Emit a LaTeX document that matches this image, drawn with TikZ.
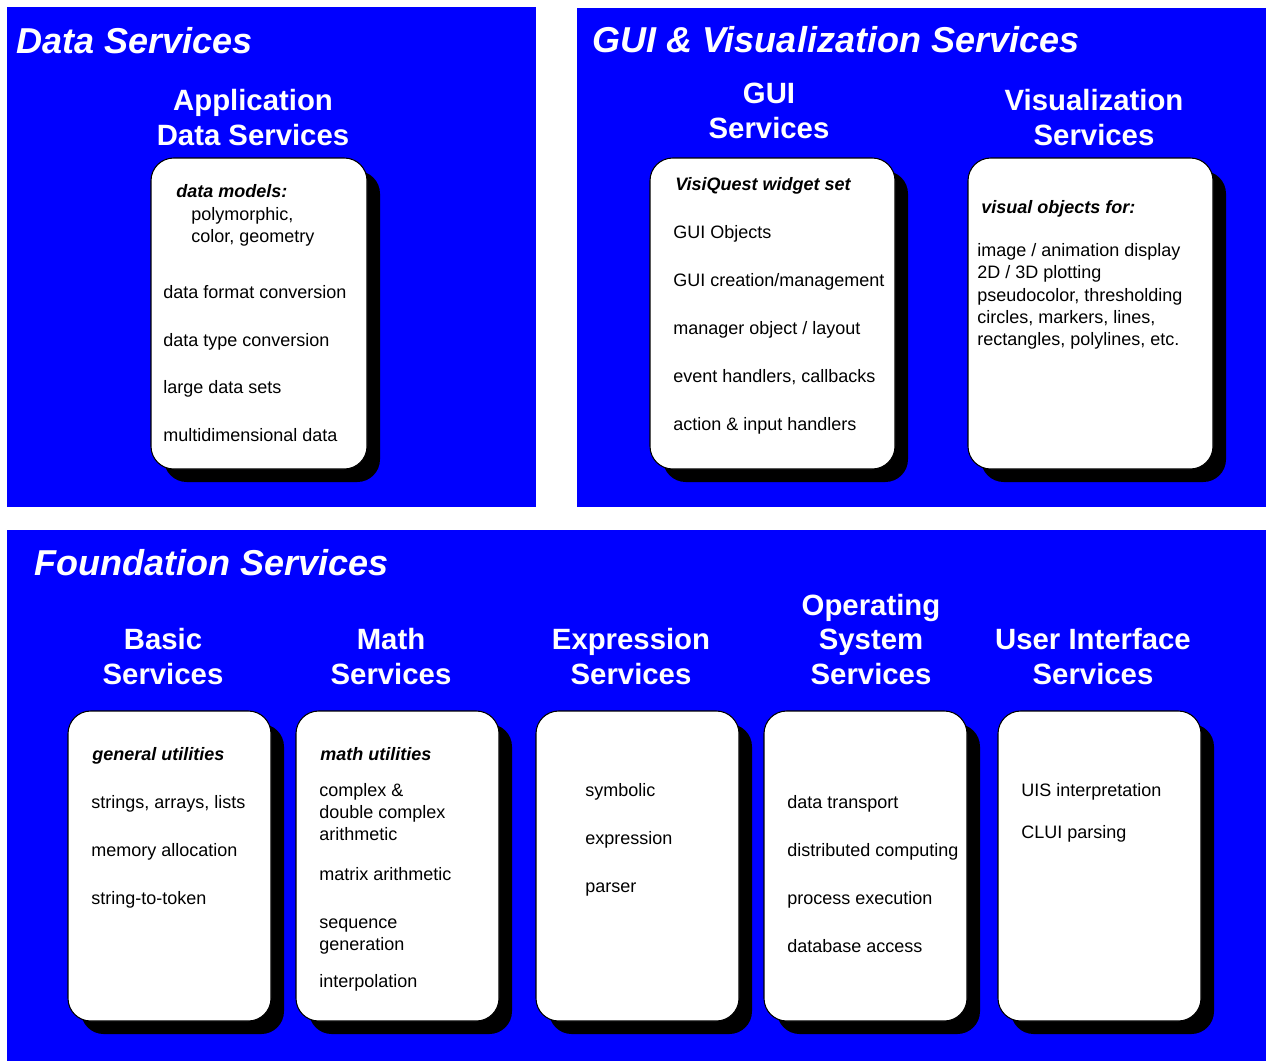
\documentclass[tikz,border=0pt]{standalone}
\usepackage{fontspec}
\setmainfont{Liberation Sans}
\usetikzlibrary{shadows,fit}

\definecolor{panelblue}{RGB}{0,0,255}

\begin{document}
\begin{tikzpicture}[x=0.75pt,y=-0.75pt,
  panel/.style={fill=panelblue},
  paneltitle/.style={anchor=base west, inner sep=0pt, text=white,
    font=\fontsize{27}{32}\selectfont\bfseries\itshape},
  groupline/.style={anchor=base, inner sep=0pt, text=white,
    font=\fontsize{22}{26}\selectfont\bfseries},
  card/.style={draw=black, line width=0.8pt, fill=white, rounded corners=17pt,
    inner sep=0pt,
    drop shadow={shadow xshift=9.75pt, shadow yshift=-9.75pt, fill=black, opacity=1}},
  item/.style={anchor=base west, inner sep=0pt, font=\fontsize{13.5}{16}\selectfont},
  itemhead/.style={item, font=\fontsize{13.5}{16}\selectfont\bfseries\itshape},
]
\useasboundingbox (0,0) rectangle (1266,1061);
\fill[white] (0,0) rectangle (1266,1061);

% ---------- background panels ----------
\fill[panel] (7,7) rectangle (536,507);
\fill[panel] (577,8) rectangle (1266,507);
\fill[panel] (7,530) rectangle (1266,1061);

\node[paneltitle] (tdata) at (16,53) {Data Services};
\node[paneltitle] (tgui) at (592,52) {GUI \& Visualization Services};
\node[paneltitle] (tfound) at (34,575) {Foundation Services};

% ---------- Data Services ----------
\node[groupline] (hads1) at (253,110) {Application};
\node[groupline] (hads2) at (253,145) {Data Services};
\node[card, fit={(151,158) (367,469)}] (ads) {};
\node[itemhead] (ads0) at (176,197) {data models:};
\node[item] (ads0a) at (191,220) {polymorphic,};
\node[item] (ads0b) at (191,242) {color, geometry};
\node[item] (ads1) at (163,298) {data format conversion};
\node[item] (ads2) at (163,346) {data type conversion};
\node[item] (ads3) at (163,393) {large data sets};
\node[item] (ads4) at (163,441) {multidimensional data};

% ---------- GUI Services ----------
\node[groupline] (hgui1) at (769,103) {GUI};
\node[groupline] (hgui2) at (769,138) {Services};
\node[card, fit={(650,158) (895,469)}] (gui) {};
\node[itemhead] (gui0) at (675,190) {VisiQuest widget set};
\node[item] (gui1) at (673,238) {GUI Objects};
\node[item] (gui2) at (673,286) {GUI creation/management};
\node[item] (gui3) at (673,334) {manager object / layout};
\node[item] (gui4) at (673,382) {event handlers, callbacks};
\node[item] (gui5) at (673,430) {action \& input handlers};

% ---------- Visualization Services ----------
\node[groupline] (hvis1) at (1094,110) {Visualization};
\node[groupline] (hvis2) at (1094,145) {Services};
\node[card, fit={(968,158) (1213,469)}] (vis) {};
\node[itemhead] (vis0) at (981,213) {visual objects for:};
\node[item] (vis1) at (977,256) {image / animation display};
\node[item] (vis2) at (977,278) {2D / 3D plotting};
\node[item] (vis3) at (977,301) {pseudocolor, thresholding};
\node[item] (vis4) at (977,323) {circles, markers, lines,};
\node[item] (vis5) at (977,345) {rectangles, polylines, etc.};

% ---------- Foundation: Basic ----------
\node[groupline] (hbas1) at (163,649) {Basic};
\node[groupline] (hbas2) at (163,684) {Services};
\node[card, fit={(68,711) (271,1021)}] (bas) {};
\node[itemhead] (bas0) at (92,760) {general utilities};
\node[item] (bas1) at (91,808) {strings, arrays, lists};
\node[item] (bas2) at (91,856) {memory allocation};
\node[item] (bas3) at (91,904) {string-to-token};

% ---------- Foundation: Math ----------
\node[groupline] (hmat1) at (391,649) {Math};
\node[groupline] (hmat2) at (391,684) {Services};
\node[card, fit={(296,711) (499,1021)}] (mat) {};
\node[itemhead] (mat0) at (320,760) {math utilities};
\node[item] (mat1) at (319,796) {complex \&};
\node[item] (mat1a) at (319,818) {double complex};
\node[item] (mat1b) at (319,840) {arithmetic};
\node[item] (mat2) at (319,880) {matrix arithmetic};
\node[item] (mat3) at (319,928) {sequence};
\node[item] (mat3a) at (319,950) {generation};
\node[item] (mat4) at (319,987) {interpolation};

% ---------- Foundation: Expression ----------
\node[groupline] (hexp1) at (631,649) {Expression};
\node[groupline] (hexp2) at (631,684) {Services};
\node[card, fit={(536,711) (739,1021)}] (exp) {};
\node[item] (exp1) at (585,796) {symbolic};
\node[item] (exp2) at (585,844) {expression};
\node[item] (exp3) at (585,892) {parser};

% ---------- Foundation: Operating System ----------
\node[groupline] (hos1) at (871,615) {Operating};
\node[groupline] (hos2) at (871,649) {System};
\node[groupline] (hos3) at (871,684) {Services};
\node[card, fit={(764,711) (967,1021)}] (os) {};
\node[item] (os1) at (787,808) {data transport};
\node[item] (os2) at (787,856) {distributed computing};
\node[item] (os3) at (787,904) {process execution};
\node[item] (os4) at (787,952) {database access};

% ---------- Foundation: User Interface ----------
\node[groupline] (hui1) at (1093,649) {User Interface};
\node[groupline] (hui2) at (1093,684) {Services};
\node[card, fit={(998,711) (1201,1021)}] (ui) {};
\node[item] (ui1) at (1021,796) {UIS interpretation};
\node[item] (ui2) at (1021,838) {CLUI parsing};
\end{tikzpicture}
\end{document}
